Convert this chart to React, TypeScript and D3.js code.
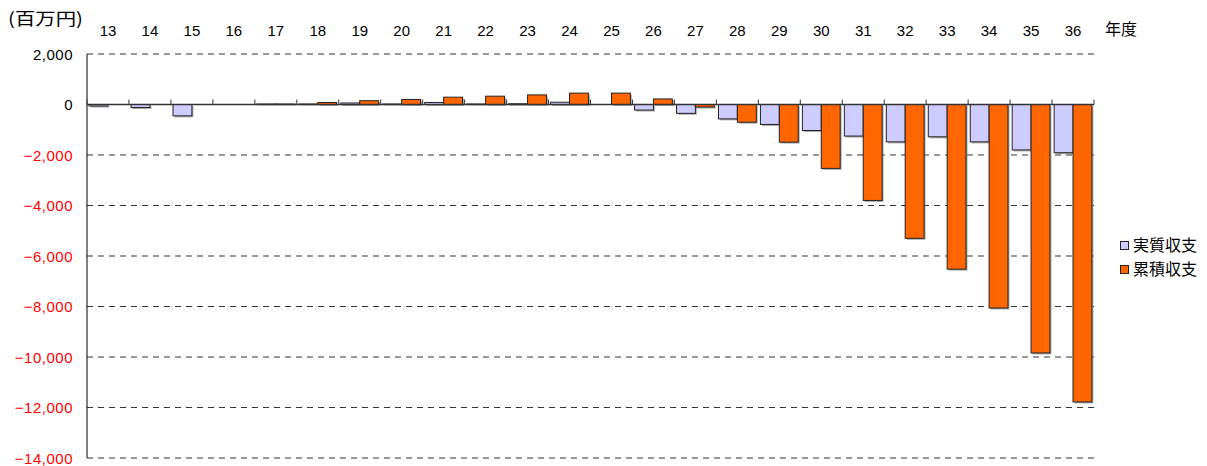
import React from "react";
import * as d3 from "d3";

const categories = ["13","14","15","16","17","18","19","20","21","22","23","24","25","26","27","28","29","30","31","32","33","34","35","36"];
const realBalance = [-60,-120,-450,0,20,20,60,20,80,20,30,90,0,-220,-350,-570,-790,-1030,-1250,-1480,-1280,-1480,-1800,-1910];
const cumulativeBalance = [0,0,0,0,20,80,150,200,290,330,380,450,450,220,-100,-700,-1490,-2530,-3800,-5300,-6520,-8060,-9840,-11780];
const yTicks = [2000,0,-2000,-4000,-6000,-8000,-10000,-12000,-14000];
const seriesNames = ["実質収支","累積収支"];
const seriesColors = ["#CCCCFF","#FF6600"];

const W = 1207, H = 466;
const left = 87, right = 1094, top = 54, bottom = 458;
const font = "'Liberation Sans', Arial, 'Noto Sans CJK JP', sans-serif";
const cjk = "'Noto Sans CJK JP', sans-serif";

export default function App() {
  const x = d3.scaleBand<string>().domain(categories).range([left, right]).padding(0);
  const y = d3.scaleLinear().domain([-14000, 2000]).range([bottom, top]);
  const bw = x.bandwidth();
  const barW = bw * 0.45;
  const fmt = d3.format(",");
  const y0 = y(0);

  const bars: React.ReactNode[] = [];
  categories.forEach((c, i) => {
    const vals = [realBalance[i], cumulativeBalance[i]];
    vals.forEach((v, s) => {
      const bx = x(c)! + bw / 2 - barW + s * barW;
      const yy = Math.min(y(v), y0);
      const hh = Math.abs(y(v) - y0);
      bars.push(
        <g key={c + "-" + s}>
          <rect x={bx + 1.5} y={yy + 1.5} width={barW} height={hh} fill="#888" opacity={0.7} />
          <rect x={bx} y={yy} width={barW} height={hh} fill={seriesColors[s]} stroke="#222" strokeWidth={1} />
        </g>
      );
    });
  });

  return (
    <svg width={W} height={H} style={{ position: "absolute", left: 0, top: 0, background: "#fff" }} fontFamily={font}>
      {yTicks.filter(t => t !== 0).map(t => (
        <line key={"g" + t} x1={left} x2={right} y1={y(t)} y2={y(t)} stroke="#333" strokeWidth={1} strokeDasharray="6,5" />
      ))}
      {yTicks.map(t => (
        <text key={"yt" + t} x={73} y={y(t) + 5.5} textAnchor="end" fontSize={15} letterSpacing={0.5} fill={t < 0 ? "#FF0000" : "#000"}>{fmt(t)}</text>
      ))}
      {bars}
      <line x1={left} x2={left} y1={top} y2={bottom} stroke="#000" strokeWidth={1} />
      <line x1={left} x2={right} y1={y0} y2={y0} stroke="#333" strokeWidth={1.5} />
      {categories.map(c => (
        <line key={"tk" + c} x1={x(c)!} x2={x(c)!} y1={y0} y2={y0 - 5} stroke="#333" strokeWidth={1} />
      ))}
      <line x1={right} x2={right} y1={y0} y2={y0 - 5} stroke="#333" strokeWidth={1} />
      {categories.map(c => (
        <text key={"xl" + c} x={x(c)! + bw / 2} y={36} textAnchor="middle" fontSize={15} fill="#000">{c}</text>
      ))}
      <text x={1105} y={35} fontSize={16} fontFamily={cjk} fill="#000">年度</text>
      <text x={8} y={25} fontSize={17} fontFamily={cjk} textLength={75} lengthAdjust="spacingAndGlyphs" fill="#000">(百万円)</text>
      {seriesNames.map((n, i) => (
        <g key={n}>
          <rect x={1120.5} y={241.5 + i * 24} width={8} height={8} fill={seriesColors[i]} stroke="#222" strokeWidth={1} />
          <text x={1133} y={251 + i * 24} fontSize={16} fontFamily={cjk} fill="#000">{n}</text>
        </g>
      ))}
    </svg>
  );
}
